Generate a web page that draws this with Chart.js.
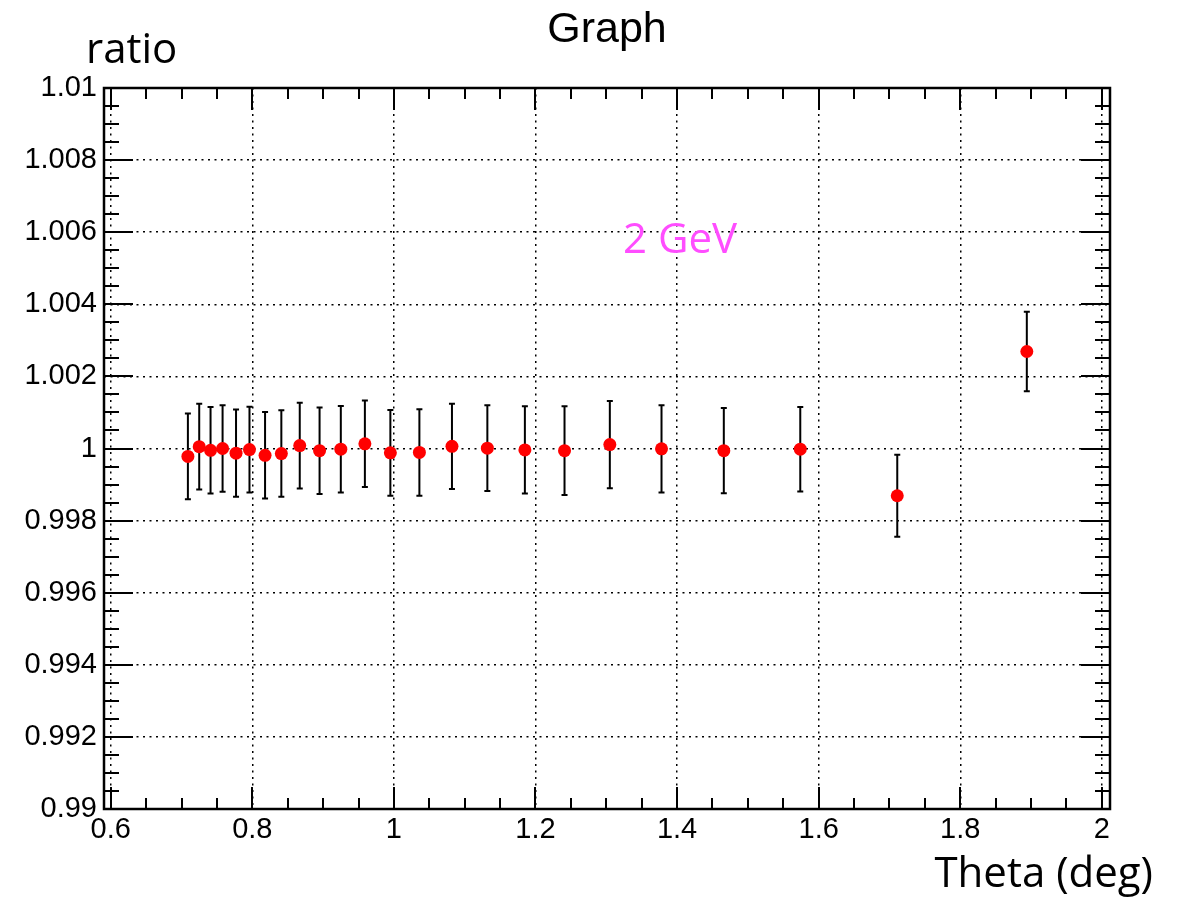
<!doctype html>
<html>
<head>
<meta charset="utf-8">
<title>Graph</title>
<script src="https://cdn.jsdelivr.net/npm/chart.js"></script>
<style>
  html, body { margin: 0; padding: 0; background: #fff; }
  #wrap { width: 1181px; height: 905px; }
</style>
</head>
<body>
<div id="wrap"><canvas id="graph" width="1181" height="905"></canvas></div>
<script>
// data
const thetaValues = [0.709, 0.725, 0.741, 0.758, 0.777, 0.796, 0.818, 0.841, 0.867, 0.895, 0.925, 0.959,
                     0.995, 1.036, 1.082, 1.132, 1.185, 1.241, 1.305, 1.378, 1.466, 1.574, 1.711, 1.894];
const ratioValues = [0.99978, 1.00005, 0.99995, 1.00000, 0.99987, 0.99997, 0.99981, 0.99986, 1.00008, 0.99994,
                     0.99998, 1.00013, 0.99988, 0.99989, 1.00006, 1.00001, 0.99996, 0.99994, 1.00011, 0.99999,
                     0.99994, 0.99998, 0.99869, 1.00269];
const ratioErrors = [0.00119, 0.00119, 0.00120, 0.00120, 0.00121, 0.00119, 0.00120, 0.00120, 0.00119, 0.00120,
                     0.00120, 0.00120, 0.00119, 0.00120, 0.00118, 0.00119, 0.00121, 0.00123, 0.00121, 0.00121,
                     0.00118, 0.00117, 0.00114, 0.00110];

const xTicks = [0.6, 0.8, 1.0, 1.2, 1.4, 1.6, 1.8, 2.0];
const xTickLabels = ['0.6', '0.8', '1', '1.2', '1.4', '1.6', '1.8', '2'];
const yTicks = [0.99, 0.992, 0.994, 0.996, 0.998, 1.0, 1.002, 1.004, 1.006, 1.008, 1.01];
const yTickLabels = ['0.99', '0.992', '0.994', '0.996', '0.998', '1', '1.002', '1.004', '1.006', '1.008', '1.01'];
const xMinorStep = 0.05;
const yMinorStep = 0.0005;

const tickFont = { family: "'Liberation Sans', Arial, sans-serif", size: 29 };

// error bars + frame with ROOT style tick marks
const rootFrame = {
  id: 'rootFrame',
  beforeDatasetsDraw(chart) {
    const ctx = chart.ctx;
    const xs = chart.scales.x, ys = chart.scales.y;
    const a = chart.chartArea;
    ctx.save();
    // error bars
    ctx.strokeStyle = '#000';
    ctx.lineWidth = 2;
    for (let i = 0; i < thetaValues.length; i++) {
      const px = xs.getPixelForValue(thetaValues[i]);
      const top = ys.getPixelForValue(ratioValues[i] + ratioErrors[i]);
      const bot = ys.getPixelForValue(ratioValues[i] - ratioErrors[i]);
      ctx.beginPath();
      ctx.moveTo(px, top); ctx.lineTo(px, bot);
      ctx.moveTo(px - 3, top); ctx.lineTo(px + 3, top);
      ctx.moveTo(px - 3, bot); ctx.lineTo(px + 3, bot);
      ctx.stroke();
    }
    // tick marks
    ctx.lineWidth = 2;
    ctx.beginPath();
    const nx = Math.round((xTicks[xTicks.length - 1] - xTicks[0]) / xMinorStep);
    for (let k = 0; k <= nx; k++) {
      const v = xTicks[0] + k * xMinorStep;
      const px = Math.round(xs.getPixelForValue(v));
      const len = (k % 4 === 0) ? 22 : 11;
      ctx.moveTo(px, a.bottom); ctx.lineTo(px, a.bottom - len);
      ctx.moveTo(px, a.top); ctx.lineTo(px, a.top + len);
    }
    const ny = Math.round((yTicks[yTicks.length - 1] - yTicks[0]) / yMinorStep);
    for (let k = 0; k <= ny; k++) {
      const v = yTicks[0] + k * yMinorStep;
      const py = Math.round(ys.getPixelForValue(v));
      const len = (k % 4 === 0) ? 29 : 15;
      ctx.moveTo(a.left, py); ctx.lineTo(a.left + len, py);
      ctx.moveTo(a.right, py); ctx.lineTo(a.right - len, py);
    }
    ctx.stroke();
    // frame
    ctx.lineWidth = 2.5;
    ctx.strokeRect(a.left, a.top, a.right - a.left, a.bottom - a.top);
    ctx.restore();
  },
  afterDraw(chart) {
    const ctx = chart.ctx;
    ctx.save();
    ctx.fillStyle = '#000';
    ctx.textBaseline = 'alphabetic';
    ctx.font = "43px 'Liberation Sans', Arial, sans-serif";
    ctx.textAlign = 'center';
    ctx.fillText('Graph', 607, 42);
    ctx.font = "42px 'Open Sans', sans-serif";
    ctx.textAlign = 'left';
    ctx.fillText('ratio', 86, 63);
    ctx.textAlign = 'right';
    ctx.fillText('Theta (deg)', 1153, 887);
    ctx.fillStyle = '#ff4dff';
    ctx.font = "42px 'Open Sans', sans-serif";
    ctx.textAlign = 'left';
    ctx.fillText('2 GeV', 623, 253);
    ctx.restore();
  }
};

const ctx = document.getElementById('graph').getContext('2d');
const chart = new Chart(ctx, {
  type: 'scatter',
  data: {
    datasets: [{
      label: 'Graph',
      data: thetaValues.map((t, i) => ({ x: t, y: ratioValues[i] })),
      pointRadius: 6.5,
      pointHoverRadius: 6.5,
      pointBackgroundColor: '#ff0000',
      pointBorderWidth: 0,
      showLine: false
    }]
  },
  options: {
    responsive: false,
    animation: false,
    layout: { padding: { left: 0, right: 71, top: 88, bottom: 0 } },
    plugins: {
      legend: { display: false },
      tooltip: { enabled: false },
      title: { display: false }
    },
    scales: {
      x: {
        type: 'linear',
        min: 0.5905,
        max: 2.0115,
        afterBuildTicks: s => { s.ticks = xTicks.map(v => ({ value: v })); },
        afterFit: s => { s.height = 96; },
        ticks: {
          font: tickFont,
          color: '#000',
          padding: 4,
          maxRotation: 0,
          autoSkip: false,
          callback: (v, i) => xTickLabels[i]
        },
        grid: { color: '#000', lineWidth: 1.5, drawTicks: false },
        border: { display: false, dash: [2, 4.5] }
      },
      y: {
        type: 'linear',
        min: 0.99,
        max: 1.01,
        afterBuildTicks: s => { s.ticks = yTicks.map(v => ({ value: v })); },
        afterFit: s => { s.width = 104; },
        ticks: {
          font: tickFont,
          color: '#000',
          padding: 7,
          autoSkip: false,
          callback: (v, i) => yTickLabels[i]
        },
        grid: { color: '#000', lineWidth: 1.5, drawTicks: false },
        border: { display: false, dash: [2, 4.5] }
      }
    }
  },
  plugins: [rootFrame]
});
</script>
</body>
</html>
